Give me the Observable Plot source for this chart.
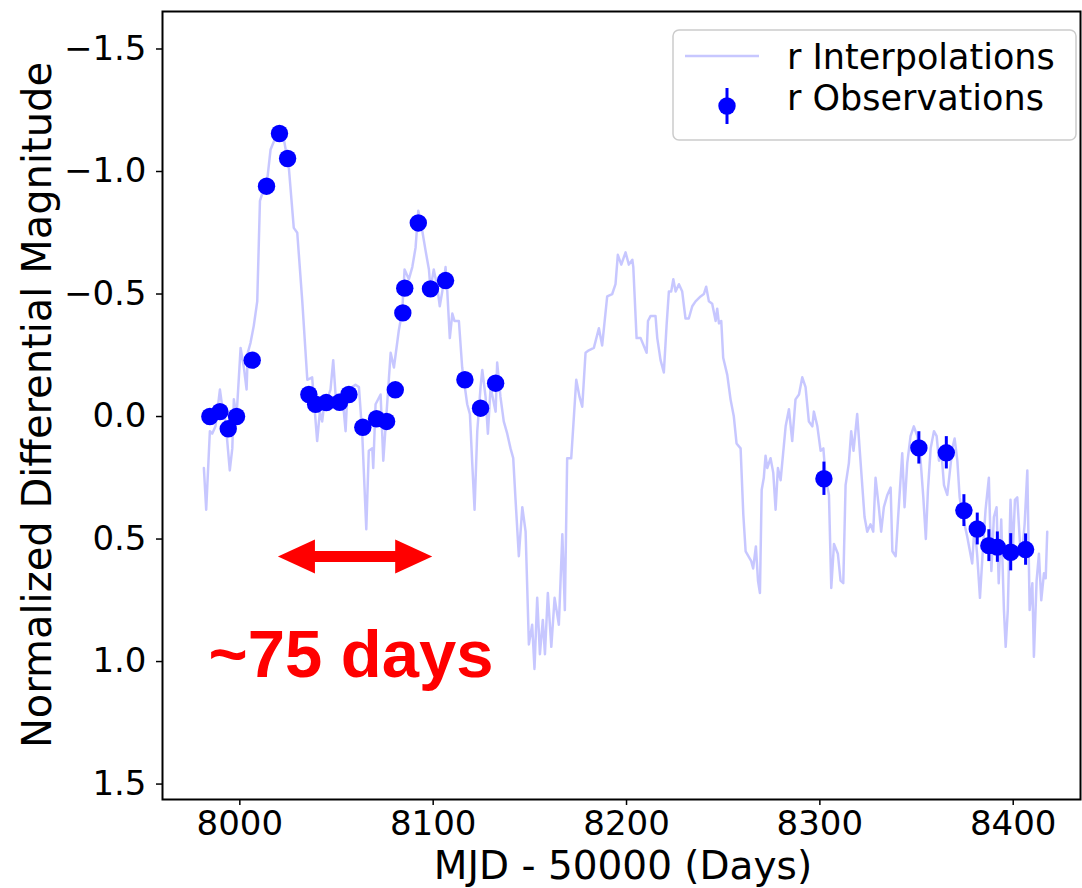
<!DOCTYPE html>
<html><head><meta charset="utf-8">
<script src="https://cdn.jsdelivr.net/npm/d3@7"></script>
<script src="https://cdn.jsdelivr.net/npm/@observablehq/plot@0.6"></script>
<style>body{margin:0;background:#fff;}</style>
</head><body><div id="chart"></div>
<script>
// ---- data ----
const xTicks = [8000, 8100, 8200, 8300, 8400];
const yTicks = [-1.5, -1.0, -0.5, 0.0, 0.5, 1.0, 1.5];

const interpDays = [7981.4,7982.6,7984.5,7985.7,7987.4,7989.7,7990.9,7992.6,7994.8,7996.1,7996.9,7998.3,8000.4,8002.1,8003.5,8004.1,8005.5,8007.2,8009.0,8010.4,8011.6,8013.8,8015.9,8018.5,8021.0,8022.8,8025.3,8027.9,8029.7,8032.3,8034.9,8037.4,8040.0,8041.4,8042.6,8043.5,8045.2,8046.9,8048.3,8049.5,8053.0,8054.7,8055.6,8058.1,8059.8,8061.6,8063.3,8065.4,8066.7,8068.5,8069.0,8070.2,8072.8,8074.2,8078.0,8079.7,8082.2,8084.0,8085.2,8087.4,8089.2,8090.9,8092.3,8094.3,8096.0,8097.8,8098.6,8100.3,8102.1,8103.4,8104.7,8106.4,8107.3,8108.6,8109.9,8111.0,8113.3,8115.0,8117.6,8119.0,8120.2,8121.4,8122.8,8124.5,8125.4,8127.1,8128.3,8129.7,8132.3,8133.1,8134.8,8136.5,8138.3,8140.0,8141.4,8142.6,8144.3,8146.1,8147.8,8149.5,8151.2,8152.4,8153.8,8155.2,8156.7,8157.8,8159.3,8161.1,8162.8,8165.0,8166.8,8168.1,8169.3,8171.4,8174.0,8175.7,8177.1,8178.8,8180.5,8183.1,8185.7,8187.4,8190.0,8192.6,8194.3,8195.5,8197.3,8199.5,8201.2,8203.0,8203.5,8205.2,8207.3,8210.4,8211.1,8212.4,8215.0,8215.9,8217.6,8219.3,8220.7,8221.9,8223.1,8224.2,8225.4,8227.1,8228.8,8230.5,8232.2,8234.0,8235.7,8238.3,8240.0,8241.2,8242.6,8244.3,8246.1,8246.9,8247.8,8249.0,8250.0,8252.1,8253.8,8255.5,8256.9,8259.0,8260.4,8261.6,8264.5,8265.5,8266.9,8268.0,8269.0,8269.9,8271.0,8271.9,8272.8,8274.5,8275.9,8277.1,8278.3,8279.7,8282.3,8284.0,8285.7,8287.4,8289.2,8290.9,8292.6,8294.3,8296.1,8296.9,8298.7,8300.4,8301.8,8303.0,8304.7,8305.9,8307.3,8309.3,8310.7,8312.1,8313.3,8315.0,8316.2,8317.4,8319.3,8321.0,8323.1,8324.5,8326.2,8327.6,8328.8,8330.5,8331.7,8333.1,8334.9,8336.6,8337.5,8339.2,8340.4,8342.6,8343.8,8345.2,8346.9,8348.6,8350.4,8352.1,8353.5,8354.8,8355.9,8357.3,8359.0,8360.4,8361.6,8362.8,8364.2,8365.9,8367.3,8368.5,8369.7,8371.1,8372.3,8373.7,8376.2,8378.8,8380.0,8381.4,8382.8,8384.1,8385.7,8387.4,8388.7,8390.0,8391.4,8392.5,8393.8,8395.2,8396.1,8397.2,8398.6,8399.8,8400.9,8402.1,8403.5,8404.7,8405.9,8407.3,8408.5,8409.9,8410.7,8412.1,8413.3,8414.5,8415.9,8416.8,8417.6];
const interpMags = [0.21,0.38,0.06,0.07,0.04,-0.11,-0.04,0.02,0.22,0.13,-0.07,0.00,-0.28,-0.20,-0.11,-0.26,-0.30,-0.37,-0.47,-0.88,-0.91,-0.94,-1.09,-1.14,-1.16,-1.13,-1.02,-0.77,-0.75,-0.47,-0.15,-0.16,0.10,-0.02,0.02,-0.04,-0.07,-0.11,-0.23,-0.09,-0.09,0.06,-0.09,-0.12,-0.13,-0.12,0.07,0.46,0.14,0.13,0.21,-0.05,-0.09,0.18,-0.26,-0.20,-0.35,-0.43,-0.60,-0.56,-0.61,-0.69,-0.84,-0.76,-0.68,-0.60,-0.52,-0.60,-0.53,-0.45,-0.51,-0.61,-0.51,-0.32,-0.42,-0.39,-0.39,-0.20,-0.05,-0.01,0.19,0.38,0.06,-0.12,-0.19,-0.08,0.07,-0.12,-0.02,-0.22,-0.08,0.02,0.07,0.13,0.17,0.34,0.57,0.37,0.47,0.93,0.85,1.03,0.74,0.97,0.83,0.97,0.72,0.94,0.74,0.85,0.48,0.79,0.17,0.17,-0.15,-0.08,-0.04,-0.26,-0.27,-0.28,-0.36,-0.29,-0.49,-0.50,-0.54,-0.66,-0.62,-0.67,-0.62,-0.64,-0.61,-0.32,-0.32,-0.26,-0.39,-0.41,-0.41,-0.32,-0.23,-0.18,-0.37,-0.51,-0.51,-0.56,-0.51,-0.54,-0.51,-0.40,-0.40,-0.45,-0.47,-0.49,-0.50,-0.53,-0.47,-0.46,-0.39,-0.44,-0.38,-0.39,-0.24,-0.17,-0.07,0.00,0.11,0.13,0.40,0.55,0.59,0.62,0.53,0.67,0.72,0.30,0.25,0.16,0.21,0.17,0.23,0.38,0.21,0.26,0.04,-0.03,0.10,-0.07,-0.09,-0.16,-0.12,0.02,0.04,-0.02,0.04,0.14,0.13,0.25,0.32,0.70,0.52,0.56,0.67,0.68,0.28,0.19,0.06,0.14,-0.01,0.18,0.41,0.47,0.44,0.47,0.25,0.37,0.47,0.37,0.32,0.29,0.55,0.57,0.42,0.15,0.37,0.19,0.08,0.04,0.08,0.18,0.33,0.50,0.30,0.13,0.06,0.08,0.18,0.14,0.28,0.32,0.22,0.13,0.09,0.18,0.33,0.40,0.49,0.60,0.44,0.57,0.74,0.57,0.38,0.25,0.63,0.41,0.37,0.68,0.42,0.79,0.94,0.79,0.34,0.55,0.34,0.33,0.52,0.55,0.44,0.22,0.79,0.68,0.98,0.67,0.56,0.75,0.64,0.66,0.47];

const obsDays = [7984.5,7989.7,7994.0,7998.3,8006.4,8013.8,8020.5,8024.7,8035.7,8039.2,8044.7,8051.6,8056.4,8063.6,8070.7,8075.9,8080.4,8084.3,8085.3,8092.3,8098.6,8106.4,8116.4,8124.5,8132.3,8302.1,8351.2,8365.4,8374.5,8381.4,8387.4,8391.8,8398.7,8406.4];
const obsMags = [0.00,-0.02,0.05,0.00,-0.23,-0.94,-1.155,-1.053,-0.09,-0.05,-0.057,-0.058,-0.09,0.044,0.009,0.02,-0.109,-0.423,-0.524,-0.79,-0.521,-0.555,-0.15,-0.034,-0.136,0.254,0.128,0.148,0.384,0.459,0.527,0.533,0.554,0.543];
const obsErrs = [0.02,0.02,0.02,0.02,0.02,0.02,0.02,0.02,0.02,0.02,0.02,0.02,0.02,0.02,0.02,0.02,0.02,0.02,0.02,0.02,0.02,0.02,0.02,0.02,0.02,0.068,0.066,0.066,0.065,0.065,0.065,0.062,0.076,0.064];

const arrowStartDay = [8019.7];
const arrowEndDay = [8099.5];
const arrowMag = [0.571];

const annoDays = [7983.8];
const annoMags = [1.065];
const annoTexts = ["~75 days"];

const legendLabels = ["r Interpolations", "r Observations"];
const xLabel = "MJD - 50000 (Days)";
const yLabel = "Normalized Differential Magnitude";

// ---- tables ----
const interp = interpDays.map((d, i) => ({day: d, mag: interpMags[i]}));
const obs = obsDays.map((d, i) => ({day: d, mag: obsMags[i], err: obsErrs[i]}));
const arrowData = arrowMag.map((m, i) => ({x1: arrowStartDay[i], x2: arrowEndDay[i], y: m}));
const annoData = annoTexts.map((t, i) => ({x: annoDays[i], y: annoMags[i], text: t}));

const headRight = {draw(ctx) { ctx.moveTo(0, 0); ctx.lineTo(-37, -17); ctx.lineTo(-37, 17); ctx.closePath(); }};
const headLeft = {draw(ctx) { ctx.moveTo(0, 0); ctx.lineTo(37, -17); ctx.lineTo(37, 17); ctx.closePath(); }};

const chart = Plot.plot({
  width: 1082, height: 888,
  marginLeft: 162, marginRight: 2, marginTop: 11, marginBottom: 89,
  style: {fontFamily: "DejaVu Sans", fontSize: "34px", color: "black", background: "white"},
  x: {domain: [7960, 8434.8]},
  y: {domain: [-1.653, 1.563], reverse: true},
  marks: [
    Plot.axisX({ticks: xTicks, tickSize: 6, tickPadding: 5, tickFormat: d3.format("d"), label: null, strokeWidth: 1.5, fontSize: 34}),
    Plot.axisY({ticks: yTicks, tickSize: 6, tickPadding: 10, tickFormat: d3.format(".1f"), label: null, strokeWidth: 1.5, fontSize: 34}),
    Plot.line(interp, {x: "day", y: "mag", stroke: "blue", strokeOpacity: 0.22, strokeWidth: 2.5}),
    Plot.ruleX(obs, {x: "day", y1: d => d.mag - d.err, y2: d => d.mag + d.err, stroke: "blue", strokeWidth: 3}),
    Plot.dot(obs, {x: "day", y: "mag", r: 8.7, fill: "blue"}),
    Plot.ruleY(arrowData, {y: "y", x1: "x1", x2: "x2", stroke: "red", strokeWidth: 11, insetLeft: 20, insetRight: 20}),
    Plot.dot(arrowData, {x: "x2", y: "y", symbol: headRight, r: 10, fill: "red"}),
    Plot.dot(arrowData, {x: "x1", y: "y", symbol: headLeft, r: 10, fill: "red"}),
    Plot.text(annoData, {x: "x", y: "y", text: "text", textAnchor: "start", lineAnchor: "bottom", fill: "red", fontSize: 67, fontWeight: "bold", fontFamily: "Liberation Sans"}),
    Plot.frame({stroke: "black", strokeWidth: 2})
  ]
});
document.getElementById("chart").appendChild(chart);

// axis titles and legend
const svg = d3.select(chart);
svg.append("text").attr("x", 623).attr("y", 879).attr("text-anchor", "middle")
  .attr("font-size", 39).attr("fill", "black").text(xLabel);
svg.append("text").attr("transform", "translate(51,405) rotate(-90)").attr("text-anchor", "middle")
  .attr("font-size", 40).attr("fill", "black").text(yLabel);

const lg = svg.append("g");
lg.append("rect").attr("x", 673).attr("y", 30).attr("width", 403).attr("height", 110).attr("rx", 6)
  .attr("fill", "white").attr("fill-opacity", 0.8).attr("stroke", "#cccccc").attr("stroke-width", 1.5);
lg.append("line").attr("x1", 685).attr("x2", 759).attr("y1", 56).attr("y2", 56)
  .attr("stroke", "blue").attr("stroke-opacity", 0.22).attr("stroke-width", 2.5);
lg.append("line").attr("x1", 727).attr("x2", 727).attr("y1", 88).attr("y2", 124)
  .attr("stroke", "blue").attr("stroke-width", 3);
lg.append("circle").attr("cx", 727).attr("cy", 106).attr("r", 8.7).attr("fill", "blue");
lg.append("text").attr("x", 787).attr("y", 69).attr("text-anchor", "start").attr("font-size", 35).attr("fill", "black").text(legendLabels[0]);
lg.append("text").attr("x", 787).attr("y", 110).attr("text-anchor", "start").attr("font-size", 35).attr("fill", "black").text(legendLabels[1]);
</script>
</body></html>
